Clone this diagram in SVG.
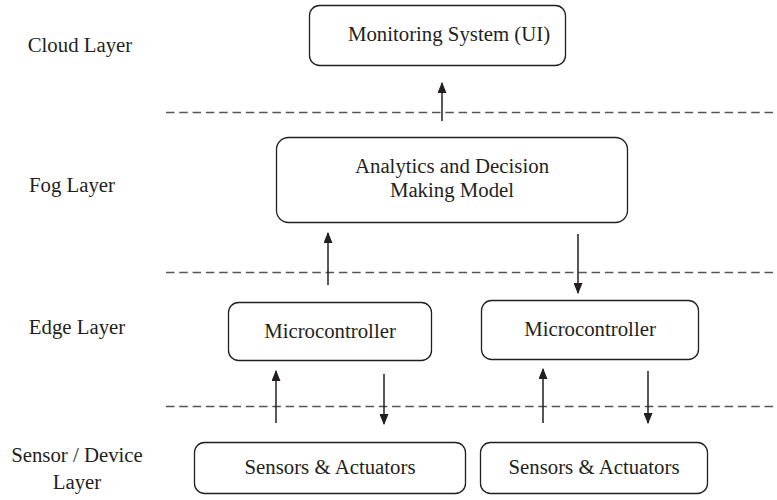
<svg xmlns="http://www.w3.org/2000/svg" width="777" height="500" viewBox="0 0 777 500">
<defs>
<style>
text{font-family:"Liberation Serif","Times New Roman",serif;font-size:20.8px;fill:#231f20;}
.box{fill:#fff;stroke:#231f20;stroke-width:1.3;}
.dash{stroke:#555;stroke-width:1.4;stroke-dasharray:8.5 4.8;fill:none;}
.arr{stroke:#231f20;stroke-width:1.5;fill:none;marker-end:url(#ah);}
</style>
<marker id="ah" viewBox="0 0 10 10" refX="9" refY="5" markerWidth="11" markerHeight="9" markerUnits="userSpaceOnUse" orient="auto" preserveAspectRatio="none">
<path d="M0,0 L10,5 L0,10 Z" fill="#231f20"/>
</marker>
</defs>
<rect width="777" height="500" fill="#fff"/>
<g id="labels">
<text x="80" y="52" text-anchor="middle">Cloud Layer</text>
<text x="72" y="192" text-anchor="middle">Fog Layer</text>
<text x="77" y="334" text-anchor="middle">Edge Layer</text>
<text x="77" y="462" text-anchor="middle">Sensor / Device</text>
<text x="77" y="489" text-anchor="middle">Layer</text>
</g>
<g id="separators">
<line class="dash" x1="166" y1="112.5" x2="777" y2="112.5"/>
<line class="dash" x1="166" y1="272.5" x2="777" y2="272.5"/>
<line class="dash" x1="166" y1="406.5" x2="777" y2="406.5"/>
</g>
<g id="monitoring">
<rect class="box" x="309.5" y="5.5" width="256" height="60" rx="10"/>
<text x="449" y="41" text-anchor="middle">Monitoring System (UI)</text>
</g>
<g id="analytics">
<rect class="box" x="276.5" y="137.5" width="351" height="85" rx="12"/>
<text x="452" y="173" text-anchor="middle">Analytics and Decision</text>
<text x="452" y="197" text-anchor="middle">Making Model</text>
</g>
<g id="micro1">
<rect class="box" x="228.5" y="302.5" width="203" height="58" rx="10"/>
<text x="330" y="338" text-anchor="middle">Microcontroller</text>
</g>
<g id="micro2">
<rect class="box" x="481.5" y="300.5" width="217" height="59" rx="10"/>
<text x="590" y="336" text-anchor="middle">Microcontroller</text>
</g>
<g id="sensors1">
<rect class="box" x="194.5" y="442.5" width="271" height="51" rx="10"/>
<text x="330" y="474" text-anchor="middle">Sensors &amp; Actuators</text>
</g>
<g id="sensors2">
<rect class="box" x="480.5" y="442.5" width="227" height="51" rx="10"/>
<text x="594" y="474" text-anchor="middle">Sensors &amp; Actuators</text>
</g>
<g id="connectors">
<line class="arr" x1="442" y1="121" x2="442" y2="83"/>
<line class="arr" x1="328" y1="285" x2="328" y2="233"/>
<line class="arr" x1="578" y1="234" x2="578" y2="293"/>
<line class="arr" x1="276" y1="423" x2="276" y2="371"/>
<line class="arr" x1="384" y1="374" x2="384" y2="424"/>
<line class="arr" x1="543" y1="423" x2="543" y2="369"/>
<line class="arr" x1="648" y1="371" x2="648" y2="423"/>
</g>
</svg>
